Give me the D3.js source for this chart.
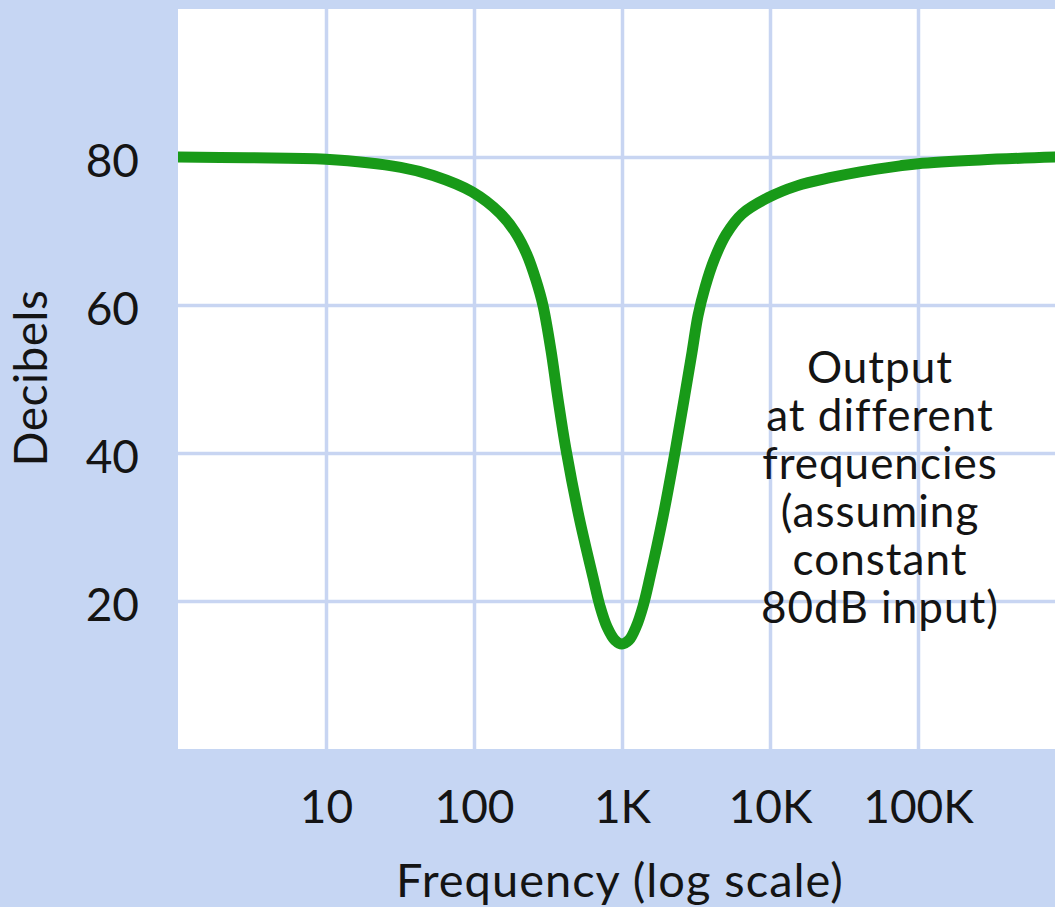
<!DOCTYPE html>
<html>
<head>
<meta charset="utf-8">
<script src="https://cdn.jsdelivr.net/npm/d3@7"></script>
<style>
  html, body { margin: 0; padding: 0; background: #c6d6f3; }
  svg { display: block; }
</style>
</head>
<body>
<svg id="chart" width="1055" height="907"></svg>
<script>
// ---- data ----
const freqs = [1, 3, 10, 32, 53, 97, 150, 189, 228, 262, 292, 331, 370, 419, 512, 637, 710, 792, 897, 1000, 1114, 1245, 1387,
               1545, 1893, 2281, 2625, 2972, 3265, 3641, 4190, 5042, 6473, 9690, 15200, 25400, 40600, 75500, 100000, 262000, 843000];
const decibels = [80, 79.9, 79.7, 78.6, 77.5, 75.3, 72.4, 69.9, 66.8, 63.4, 60, 53.9, 47.2, 40.4, 31.4, 23.2, 19.3, 16.5, 14.7, 14.2, 14.7, 16.5, 19.3,
                  23.2, 31.4, 40.1, 47.2, 53.6, 58.6, 62.4, 66.1, 69.5, 72.3, 74.5, 76.1, 77.2, 78, 78.8, 79.1, 79.6, 80];
const xTickValues = [10, 100, 1000, 10000, 100000];
const xTickLabels = ["10", "100", "1K", "10K", "100K"];
const yTickValues = [20, 40, 60, 80];
const annotationLines = ["Output", "at different", "frequencies", "(assuming", "constant", "80dB input)"];
const xTitle = "Frequency (log scale)";
const yTitle = "Decibels";

// ---- layout ----
const W = 1055, H = 907;
const plot = { left: 178, top: 9, right: 1055, bottom: 749 };
const FONT = "Lato, 'Open Sans', sans-serif";
const svg = d3.select("#chart");

svg.append("rect").attr("width", W).attr("height", H).attr("fill", "#c6d6f3");

const x = d3.scaleLog().domain([1, 1e6]).range([plot.left, plot.left + 6 * 148]);
const y = d3.scaleLinear().domain([0, 100]).range([plot.bottom, plot.top]);

svg.append("defs").append("clipPath").attr("id", "clip")
  .append("rect").attr("x", plot.left).attr("y", plot.top)
  .attr("width", plot.right - plot.left).attr("height", plot.bottom - plot.top);

svg.append("rect")
  .attr("x", plot.left).attr("y", plot.top)
  .attr("width", plot.right - plot.left).attr("height", plot.bottom - plot.top)
  .attr("fill", "#ffffff");

const grid = svg.append("g").attr("clip-path", "url(#clip)");
const gx = grid.append("g").attr("transform", `translate(0,${plot.bottom})`)
  .call(d3.axisBottom(x).tickValues(xTickValues).tickSize(-(plot.bottom - plot.top)).tickFormat(""));
gx.select(".domain").remove();
gx.selectAll("line").attr("stroke", "#c8d5f2").attr("stroke-width", 3.5);
const gy = grid.append("g").attr("transform", `translate(${plot.left},0)`)
  .call(d3.axisLeft(y).tickValues(yTickValues).tickSize(-(plot.right - plot.left)).tickFormat(""));
gy.select(".domain").remove();
gy.selectAll("line").attr("stroke", "#c8d5f2").attr("stroke-width", 3.5);

// axis labels
const xAxis = svg.append("g").attr("transform", `translate(0,${plot.bottom})`)
  .call(d3.axisBottom(x).tickValues(xTickValues).tickSize(0)
    .tickFormat((d, i) => xTickLabels[i]));
xAxis.select(".domain").remove();
xAxis.selectAll("text")
  .attr("y", 74).attr("dy", 0)
  .attr("fill", "#141414").style("font-family", FONT).style("font-size", "46px");

const yAxis = svg.append("g").attr("transform", `translate(${plot.left},0)`)
  .call(d3.axisLeft(y).tickValues(yTickValues).tickSize(0).tickFormat(d3.format("d")));
yAxis.select(".domain").remove();
yAxis.selectAll("text")
  .attr("x", -39).attr("dy", 0).attr("y", 19)
  .attr("fill", "#141414").style("font-family", FONT).style("font-size", "46px");

// axis titles
svg.append("text")
  .attr("x", 620).attr("y", 897)
  .attr("text-anchor", "middle")
  .attr("fill", "#141414").style("font-family", FONT).style("font-size", "47px")
  .style("letter-spacing", "1px")
  .text(xTitle);
svg.append("text")
  .attr("transform", "translate(47,378) rotate(-90)")
  .attr("text-anchor", "middle")
  .attr("fill", "#141414").style("font-family", FONT).style("font-size", "46px")
  .style("letter-spacing", "0.5px")
  .text(yTitle);

// annotation
const ann = svg.append("g")
  .attr("fill", "#141414").style("font-family", FONT).style("font-size", "44px")
  .style("letter-spacing", "1px");
annotationLines.forEach((t, i) => {
  ann.append("text").attr("text-anchor", "middle")
    .attr("x", 880).attr("y", 383 + i * 48).text(t);
});

// curve
const line = d3.line()
  .x((d, i) => x(freqs[i]))
  .y(d => y(d))
  .curve(d3.curveCatmullRom.alpha(0.5));
svg.append("g").attr("clip-path", "url(#clip)")
  .append("path")
  .datum(decibels)
  .attr("d", line)
  .attr("fill", "none")
  .attr("stroke", "#189a18")
  .attr("stroke-width", 11)
  .attr("stroke-linecap", "round")
  .attr("stroke-linejoin", "round");
</script>
</body>
</html>
